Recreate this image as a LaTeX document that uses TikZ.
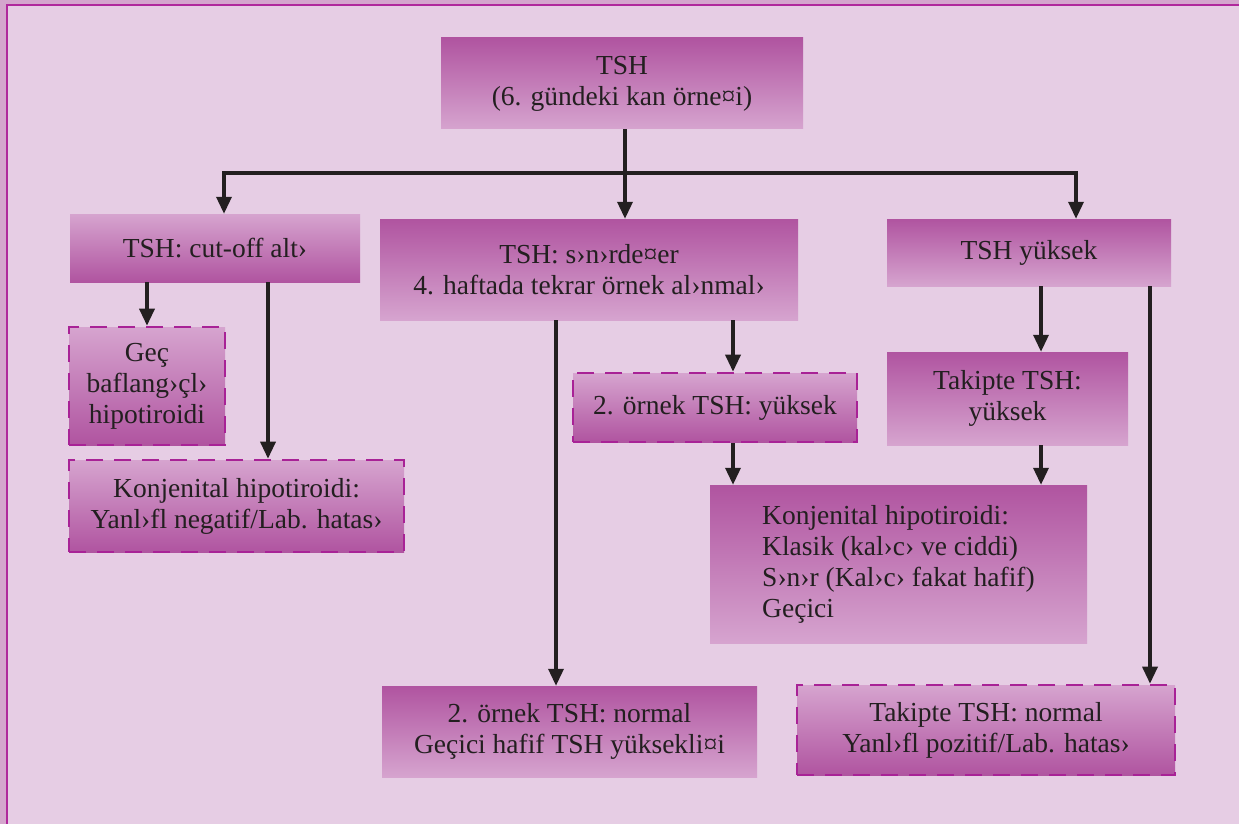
\documentclass[tikz,border=0pt]{standalone}
\usepackage{fontspec}
\setmainfont{Liberation Serif}
\usetikzlibrary{arrows.meta}
\definecolor{bgout}{RGB}{212,166,205}
\definecolor{bgin}{RGB}{230,205,228}
\definecolor{frame}{RGB}{176,40,156}
\definecolor{dk}{RGB}{176,84,160}
\definecolor{lt}{RGB}{214,164,207}
\definecolor{dash}{RGB}{168,34,150}
\definecolor{ink}{RGB}{35,31,32}
\tikzset{
  box/.style={inner sep=0pt, align=center, text=ink, font=\fontsize{27.5}{31}\selectfont},
  darktop/.style={box, top color=dk, bottom color=lt},
  lighttop/.style={box, top color=lt, bottom color=dk},
  dashbox/.style={lighttop, draw=dash, line width=2.6pt, dash pattern=on 17pt off 11pt},
  ln/.style={draw=ink, line width=3.4pt},
  arr/.style={ln, -{Triangle[length=17pt,width=15pt]}},
}
\begin{document}
\begin{tikzpicture}[x=1pt,y=-1pt]
\useasboundingbox (0,0) rectangle (1239,824);
\fill[bgout] (0,0) rectangle (1239,824);
\fill[bgin] (6,4) rectangle (1239,824);
\draw[frame, line width=2pt] (7,824) -- (7,5) -- (1239,5);

\node[darktop, minimum width=362pt, minimum height=91pt] (top) at (622,83.5) {TSH\\(6. gündeki kan örne¤i)};
\node[lighttop, minimum width=290pt, minimum height=68pt] (cut) at (215,248) {TSH: cut-off alt›};
\node[dashbox, minimum width=156pt, minimum height=118pt] (gec) at (147,386) {Geç\\baflang›çl›\\hipotiroidi};
\node[dashbox, minimum width=335pt, minimum height=92pt] (konjL) at (236.5,506) {Konjenital hipotiroidi:\\Yanl›fl negatif/Lab. hatas›};
\node[darktop, minimum width=418pt, minimum height=101pt] (sinir) at (589,269.5) {TSH: s›n›rde¤er\\4. haftada tekrar örnek al›nmal›};
\node[dashbox, minimum width=284pt, minimum height=69pt] (ornY) at (715,407.5) {2. örnek TSH: yüksek};
\node[darktop, minimum width=284pt, minimum height=67pt] (tshY) at (1029,252.5) {TSH yüksek};
\node[darktop, minimum width=241pt, minimum height=93pt] (takY) at (1007.5,398.5) {Takipte TSH:\\yüksek};
\node[darktop, minimum width=377pt, minimum height=158pt] (konjR) at (898.5,564) {};
\node[box, align=left] (konjRt) at (konjR.center) {Konjenital hipotiroidi:\\Klasik (kal›c› ve ciddi)\\S›n›r (Kal›c› fakat hafif)\\Geçici};
\node[darktop, minimum width=375pt, minimum height=91pt] (ornN) at (569.5,731.5) {2. örnek TSH: normal\\Geçici hafif TSH yüksekli¤i};
\node[dashbox, minimum width=378pt, minimum height=90pt] (takN) at (986,730) {Takipte TSH: normal\\Yanl›fl pozitif/Lab. hatas›};

\coordinate (split) at (625,173);
\coordinate (xL) at (224,0);
\coordinate (xR) at (1076,0);
\coordinate (xCut2) at (268,0);
\coordinate (xS1) at (556,0);
\coordinate (xS2) at (733,0);
\coordinate (xT1) at (1041,0);
\coordinate (xT2) at (1150,0);

\draw[ln] (top.south -| split) -- (split);
\draw[arr] (split) -| (cut.north -| xL);
\draw[arr] (split) -| (tshY.north -| xR);
\draw[arr] (split) -- (sinir.north -| split);

\draw[arr] (cut.south -| gec.north) -- (gec.north);
\draw[arr] (cut.south -| xCut2) -- (konjL.north -| xCut2);

\draw[arr] (sinir.south -| xS1) -- (ornN.north -| xS1);
\draw[arr] (sinir.south -| xS2) -- (ornY.north -| xS2);
\draw[arr] (ornY.south -| xS2) -- (konjR.north -| xS2);

\draw[arr] (tshY.south -| xT1) -- (takY.north -| xT1);
\draw[arr] (takY.south -| xT1) -- (konjR.north -| xT1);
\draw[arr] (tshY.south -| xT2) -- (takN.north -| xT2);
\end{tikzpicture}
\end{document}
